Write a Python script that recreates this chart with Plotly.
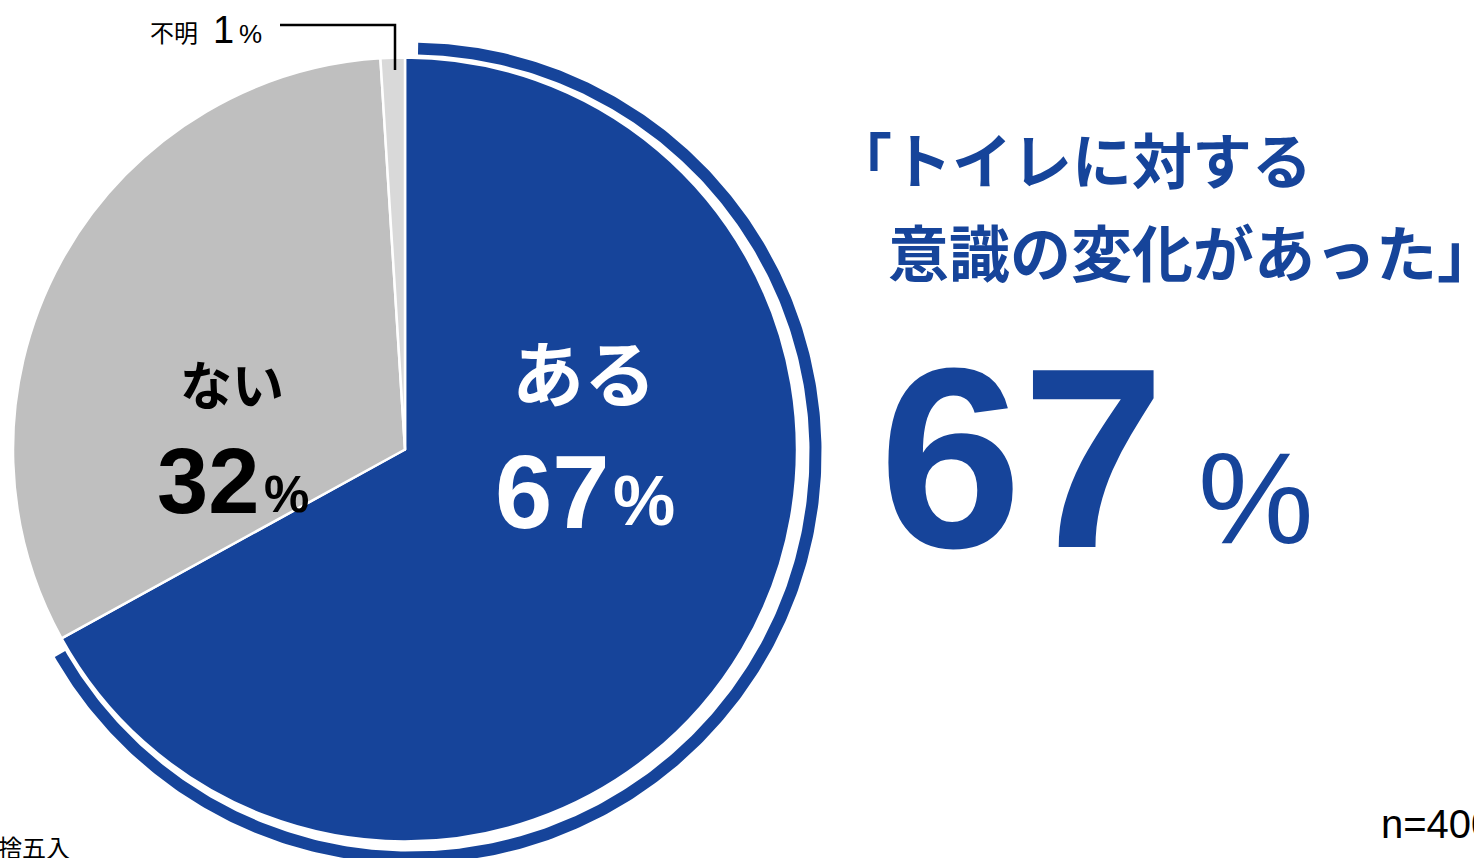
import numpy as np
import plotly.graph_objects as go

# Survey answers: "did your awareness of toilets change?"
categories = ["ある", "ない", "不明"]
shares = [67, 32, 1]
slice_colors = ["#16449A", "#BFBFBF", "#D9D9D9"]
sample_label = "n=400"
note_label = "※小数点以下四捨五入"
headline_lines = ["「トイレに対する", "意識の変化があった」"]

W, H = 1474, 858
BLUE = "#16449A"
JP = "Noto Sans CJK JP"
LAT = "Liberation Sans, Arial, sans-serif"

# pie geometry in pixels
cx, cy, R = 405, 449.5, 392

fig = go.Figure()

fig.add_trace(go.Pie(
    labels=categories,
    values=shares,
    sort=False,
    direction="clockwise",
    rotation=0,
    marker=dict(colors=slice_colors, line=dict(color="white", width=2.5)),
    textinfo="none",
    hoverinfo="label+percent",
    showlegend=False,
    domain=dict(x=[(cx - R) / W, (cx + R) / W],
                y=[1 - (cy + R) / H, 1 - (cy - R) / H]),
))

# Highlight arc around the "ある" slice, offset slightly outwards
frac = np.cumsum([0] + shares) / np.sum(shares)
a0, a1 = frac[0] * 2 * np.pi, frac[1] * 2 * np.pi
mid = (a0 + a1) / 2
pull = 7
rcx, rcy = cx + pull * np.sin(mid), cy - pull * np.cos(mid)
gap = np.radians(1.0)
th = np.linspace(a0 + gap, a1 - gap, 400)
r_in, r_out = 398.5, 410.5
ring_x = np.concatenate([rcx + r_out * np.sin(th), rcx + r_in * np.sin(th[::-1])])
ring_y = np.concatenate([rcy - r_out * np.cos(th), rcy - r_in * np.cos(th[::-1])])
fig.add_trace(go.Scatter(
    x=ring_x, y=ring_y, fill="toself", fillcolor=BLUE,
    mode="lines", line=dict(width=0, color=BLUE),
    hoverinfo="skip", showlegend=False,
))

fig.update_xaxes(range=[0, W], visible=False, fixedrange=True)
fig.update_yaxes(range=[H, 0], visible=False, fixedrange=True)

def px(x):
    return x / W

def py(y):
    return 1 - y / H

ann = []

def add(text, x, y, size, color="black", family=JP, xanchor="center", bold=True):
    ann.append(dict(
        text=f"<b>{text}</b>" if bold else text,
        x=px(x), y=py(y), xref="paper", yref="paper",
        xanchor=xanchor, yanchor="middle", showarrow=False,
        font=dict(size=size, color=color, family=family),
    ))

# in-slice labels
add(categories[0], 584, 370, 72, "white")
add(f"{shares[0]}", 612, 492, 103, "white", LAT, "right")
add("%", 611, 501, 70, "white", LAT, "left")

add(categories[1], 232, 382, 52, "black")
add(f"{shares[1]}", 261, 481, 92, "black", LAT, "right")
add("%", 262, 495, 51, "black", LAT, "left")

# callout for the tiny slice
add(categories[2], 174, 32, 24, "black", JP, "center", bold=False)
add(f"{shares[2]}", 223, 30, 38, "black", LAT, "center", bold=False)
add("%", 250, 34, 26, "black", LAT, "center", bold=False)

# headline on the right
add(headline_lines[0], 830, 158, 60, BLUE, JP, "left")
add(headline_lines[1], 886, 250, 61, BLUE, JP, "left")
add(f"{shares[0]}", 1167, 457, 257, BLUE, LAT, "right")
add("%", 1196, 498, 130, BLUE, LAT, "left", bold=False)

# footnotes
add(note_label, 72, 846, 24, "black", JP, "right", bold=False)
add(sample_label, 1379, 824, 40, "black", LAT, "left", bold=False)

fig.update_layout(
    annotations=ann,
    width=W, height=H,
    margin=dict(l=0, r=0, t=0, b=0),
    paper_bgcolor="white", plot_bgcolor="white",
    shapes=[dict(
        type="path", xref="paper", yref="paper",
        path=f"M {px(395)} {py(70)} L {px(395)} {py(25)} L {px(280)} {py(25)}",
        line=dict(color="black", width=2.5),
    )],
)

fig.write_html("out.html")
